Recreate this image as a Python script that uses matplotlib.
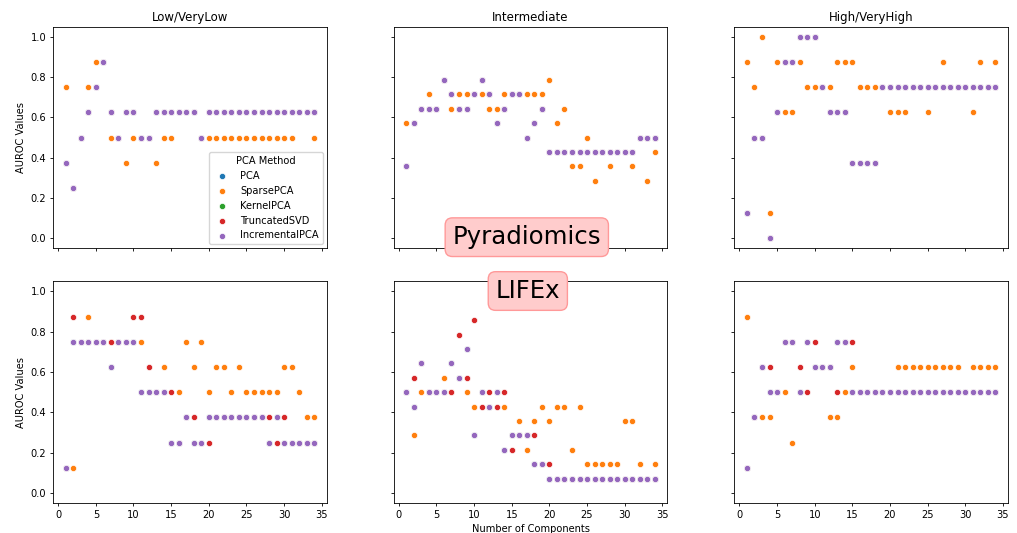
import matplotlib
matplotlib.use("Agg")
import matplotlib.pyplot as plt
import numpy as np

components = list(range(1, 35))
methods = ["PCA", "SparsePCA", "KernelPCA", "TruncatedSVD", "IncrementalPCA"]
colors = {"PCA": "#1f77b4", "SparsePCA": "#ff7f0e", "KernelPCA": "#2ca02c",
          "TruncatedSVD": "#d62728", "IncrementalPCA": "#9467bd"}
groups = ["Low/VeryLow", "Intermediate", "High/VeryHigh"]

# ---------------- Pyradiomics ----------------
pyr_low_inc = [0.375, 0.25, 0.5, 0.625, 0.75, 0.875, 0.625, 0.5, 0.625, 0.625,
               0.5, 0.5, 0.625, 0.625, 0.625, 0.625, 0.625, 0.625, 0.5, 0.625,
               0.625, 0.625, 0.625, 0.625, 0.625, 0.625, 0.625, 0.625, 0.625, 0.625,
               0.625, 0.625, 0.625, 0.625]
pyr_low_sparse = [0.75, 0.25, 0.5, 0.75, 0.875, 0.875, 0.5, 0.5, 0.375, 0.5,
                  0.5, 0.5, 0.375, 0.5, 0.5, 0.625, 0.625, 0.625, 0.5, 0.5,
                  0.5, 0.5, 0.5, 0.5, 0.5, 0.5, 0.5, 0.5, 0.5, 0.5,
                  0.5, 0.625, 0.625, 0.5]

# Intermediate values in units of 1/14
pyr_int_inc_k = [5, 8, 9, 9, 9, 11, 10, 9, 9, 10,
                 11, 10, 8, 9, 10, 10, 7, 8, 9, 6,
                 6, 6, 6, 6, 6, 6, 6, 6, 6, 6,
                 6, 7, 7, 7]
pyr_int_sparse_k = [8, 8, 9, 10, 9, 11, 9, 10, 10, 10,
                    10, 9, 9, 10, 10, 10, 10, 10, 10, 11,
                    8, 9, 5, 5, 7, 4, 6, 5, 6, 6,
                    5, 7, 4, 6]

pyr_high_inc = [0.125, 0.5, 0.5, 0.0, 0.625, 0.875, 0.875, 1.0, 1.0, 1.0,
                0.75, 0.625, 0.625, 0.625, 0.375, 0.375, 0.375, 0.375, 0.75, 0.75,
                0.75, 0.75, 0.75, 0.75, 0.75, 0.75, 0.75, 0.75, 0.75, 0.75,
                0.75, 0.75, 0.75, 0.75]
pyr_high_sparse = [0.875, 0.75, 1.0, 0.125, 0.875, 0.625, 0.625, 0.875, 0.75, 0.75,
                   0.75, 0.75, 0.875, 0.875, 0.875, 0.75, 0.75, 0.75, 0.75, 0.625,
                   0.625, 0.625, 0.75, 0.75, 0.625, 0.75, 0.875, 0.75, 0.75, 0.75,
                   0.625, 0.875, 0.75, 0.875]

# ---------------- LIFEx ----------------
lif_low_inc = [0.125, 0.75, 0.75, 0.75, 0.75, 0.75, 0.625, 0.75, 0.75, 0.75,
               0.5, 0.5, 0.5, 0.5, 0.25, 0.25, 0.375, 0.25, 0.25, 0.375,
               0.375, 0.375, 0.375, 0.375, 0.375, 0.375, 0.375, 0.25, 0.375, 0.25,
               0.25, 0.25, 0.25, 0.25]
lif_low_svd = [0.125, 0.875, 0.75, 0.75, 0.75, 0.75, 0.75, 0.75, 0.75, 0.875,
               0.875, 0.625, 0.5, 0.5, 0.5, 0.25, 0.375, 0.375, 0.25, 0.25,
               0.375, 0.375, 0.375, 0.375, 0.375, 0.375, 0.375, 0.375, 0.25, 0.375,
               0.25, 0.25, 0.25, 0.25]
lif_low_sparse = [0.125, 0.125, 0.75, 0.875, 0.75, 0.75, 0.75, 0.75, 0.75, 0.75,
                  0.75, 0.5, 0.5, 0.625, 0.25, 0.5, 0.75, 0.625, 0.75, 0.5,
                  0.625, 0.625, 0.5, 0.625, 0.5, 0.5, 0.5, 0.5, 0.5, 0.625,
                  0.625, 0.5, 0.375, 0.375]

lif_int_inc_k = [7, 6, 9, 7, 7, 7, 9, 8, 10, 4,
                 7, 6, 7, 3, 4, 4, 4, 2, 2, 1,
                 1, 1, 1, 1, 1, 1, 1, 1, 1, 1,
                 1, 1, 1, 1]
lif_int_svd_k = [7, 8, 9, 7, 7, 7, 7, 11, 8, 12,
                 6, 7, 6, 7, 3, 4, 4, 4, 2, 2,
                 1, 1, 1, 1, 1, 1, 1, 1, 1, 1,
                 1, 1, 1, 1]
lif_int_sparse_k = [7, 4, 7, 7, 7, 8, 7, 8, 7, 6,
                    7, 6, 7, 6, 4, 5, 3, 5, 6, 5,
                    6, 6, 3, 6, 2, 2, 2, 2, 2, 5,
                    5, 2, 1, 2]

lif_high_inc = [0.125, 0.375, 0.625, 0.5, 0.5, 0.75, 0.75, 0.5, 0.75, 0.625,
                0.625, 0.625, 0.75, 0.75, 0.5, 0.5, 0.5, 0.5, 0.5, 0.5,
                0.5, 0.5, 0.5, 0.5, 0.5, 0.5, 0.5, 0.5, 0.5, 0.5,
                0.5, 0.5, 0.5, 0.5]
lif_high_svd = [0.125, 0.375, 0.625, 0.625, 0.5, 0.75, 0.75, 0.625, 0.5, 0.75,
                0.625, 0.625, 0.5, 0.75, 0.75, 0.5, 0.5, 0.5, 0.5, 0.5,
                0.5, 0.5, 0.5, 0.5, 0.5, 0.5, 0.5, 0.5, 0.5, 0.5,
                0.5, 0.5, 0.5, 0.5]
lif_high_sparse = [0.875, 0.375, 0.375, 0.375, 0.5, 0.5, 0.25, 0.5, 0.75, 0.625,
                   0.625, 0.375, 0.375, 0.5, 0.625, 0.5, 0.5, 0.5, 0.5, 0.5,
                   0.625, 0.625, 0.625, 0.625, 0.625, 0.625, 0.625, 0.625, 0.625, 0.5,
                   0.625, 0.625, 0.625, 0.625]


def k14(vals):
    return [v / 14 for v in vals]


def build(inc, sparse, svd=None):
    svd = inc if svd is None else svd
    return {"PCA": inc, "SparsePCA": sparse, "KernelPCA": inc,
            "TruncatedSVD": svd, "IncrementalPCA": inc}


panels = [
    [build(pyr_low_inc, pyr_low_sparse),
     build(k14(pyr_int_inc_k), k14(pyr_int_sparse_k)),
     build(pyr_high_inc, pyr_high_sparse)],
    [build(lif_low_inc, lif_low_sparse, lif_low_svd),
     build(k14(lif_int_inc_k), k14(lif_int_sparse_k), k14(lif_int_svd_k)),
     build(lif_high_inc, lif_high_sparse, lif_high_svd)],
]

FS = 7.1
plt.rcParams.update({"xtick.labelsize": FS, "ytick.labelsize": FS,
                     "axes.labelsize": FS, "axes.linewidth": 0.6,
                     "xtick.major.width": 0.6, "ytick.major.width": 0.6,
                     "xtick.major.size": 2.5, "ytick.major.size": 2.5,
                     "xtick.major.pad": 2.5, "ytick.major.pad": 2.5})

fig, axes = plt.subplots(2, 3, figsize=(10.17, 5.33), dpi=100, sharex=True, sharey=True)
fig.subplots_adjust(left=0.0524, right=0.991, top=0.950, bottom=0.056, wspace=0.246, hspace=0.149)

for r in range(2):
    for c in range(3):
        ax = axes[r, c]
        data = panels[r][c]
        for m in methods:
            ax.scatter(components, data[m], s=20, color=colors[m],
                       edgecolor="white", linewidth=0.5, label=m, zorder=2)
        if r == 0:
            ax.set_title(groups[c], fontsize=8.5, pad=4.2)
        if c == 0:
            ax.set_ylabel("AUROC Values", labelpad=3)

axes[1, 1].set_xlabel("Number of Components", labelpad=2.5)
axes[0, 0].set_xticks([0, 5, 10, 15, 20, 25, 30, 35])
axes[0, 0].set_yticks([0.0, 0.2, 0.4, 0.6, 0.8, 1.0])
axes[0, 0].legend(title="PCA Method", loc="lower right", fontsize=FS, title_fontsize=FS,
                  markerscale=1.0, borderaxespad=0.4)

box = dict(boxstyle="round,pad=0.3", facecolor="#ffcccc", edgecolor="#ff9999", alpha=1.0)
fig.text(0.518, 0.555, "Pyradiomics", fontsize=17.6, ha="center", va="center", bbox=box)
fig.text(0.519, 0.454, "LIFEx", fontsize=17.6, ha="center", va="center", bbox=box)

fig.savefig("out.png", dpi=100)
